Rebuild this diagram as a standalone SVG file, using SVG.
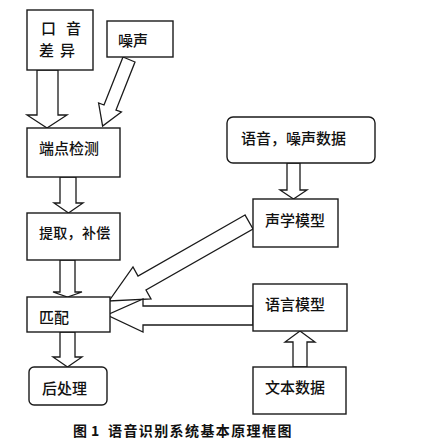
<svg xmlns="http://www.w3.org/2000/svg" width="424" height="447" viewBox="0 0 424 447">
<style>
.box{fill:#fff;stroke:#1a1a1a;stroke-width:1.4}
.arr{fill:#fff;stroke:#1a1a1a;stroke-width:1.3;stroke-linejoin:miter}
.t{font-family:"Noto Sans CJK SC","Noto Sans CJK JP",sans-serif;font-size:15px;font-weight:500;fill:#111}
.cap{font-family:"Noto Sans CJK SC","Noto Sans CJK JP",sans-serif;font-size:14px;font-weight:700;fill:#111}
</style>
<rect width="424" height="447" fill="#fff"/>
<g id="connectors">
<polygon class="arr" points="37,70 37,115 27,115 47,128 67,115 58,115 58,70"/>
<polygon class="arr" points="123,57 104,105 98.6,103 102.6,126 121.4,112 116,110 135,62"/>
<polygon class="arr" points="60,177 60,203 54,203 68.5,213 83,203 76,203 76,177"/>
<polygon class="arr" points="60,260 60,292 53,292 67.5,297 82,292 75,292 75,260"/>
<polygon class="arr" points="60,332 60,357 53,357 67.5,367 82,357 75,357 75,332"/>
<polygon class="arr" points="287,163 287,190 280,190 293.5,199 307,190 300,190 300,163"/>
<polygon class="arr" points="293,367 293,342 285,342 300,331 315,342 307,342 307,367"/>
<polygon class="arr" points="245,215 138,276 133,267 109,301 151,299 146,290 253,229"/>
<polygon class="arr" points="253,306 143,306 143,299 107,315 143,332 143,325 253,325"/>
</g>
<g id="kouyin">
<rect class="box" x="27" y="10" width="66" height="60"/>
<text class="t" x="41" y="33.5">口</text>
<text class="t" x="66" y="33.5">音</text>
<text class="t" x="39" y="55.5">差</text>
<text class="t" x="60" y="55.5">异</text>
</g>
<g id="zaosheng">
<rect class="box" x="107" y="21" width="66" height="36"/>
<text class="t" x="118" y="45.5">噪声</text>
</g>
<g id="duandian">
<rect class="box" x="27" y="128" width="93" height="49"/>
<text class="t" x="39" y="153.5">端点检测</text>
</g>
<g id="tiqu">
<rect class="box" x="27" y="213" width="93" height="47"/>
<text class="t" x="39" y="237.5" style="font-size:14px;letter-spacing:0.3px">提取，补偿</text>
</g>
<g id="pipei">
<rect class="box" x="27" y="297" width="83" height="35"/>
<text class="t" x="39" y="322.5">匹配</text>
</g>
<g id="houchuli">
<rect class="box" x="29" y="367" width="78" height="38" rx="5"/>
<text class="t" x="42" y="393.5">后处理</text>
</g>
<g id="yuyinshuju">
<rect class="box" x="227" y="117" width="148" height="46" rx="6"/>
<text class="t" x="241" y="143.5">语音，噪声数据</text>
</g>
<g id="shengxue">
<rect class="box" x="253" y="199" width="85" height="48"/>
<text class="t" x="265" y="225.5">声学模型</text>
</g>
<g id="yuyan">
<rect class="box" x="253" y="284" width="94" height="47"/>
<text class="t" x="265" y="309.5">语言模型</text>
</g>
<g id="wenben">
<rect class="box" x="253" y="367" width="93" height="47"/>
<text class="t" x="265" y="392.5">文本数据</text>
</g>
<g id="caption">
<text class="cap" x="73" y="436">图</text>
<text class="cap" x="91" y="436">1</text>
<text class="cap" x="108" y="436" style="letter-spacing:1.4px">语音识别系统基本原理框图</text>
</g>
</svg>
